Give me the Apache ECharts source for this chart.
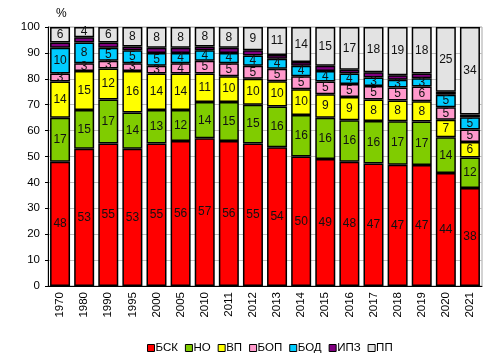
<!DOCTYPE html>
<html><head><meta charset="utf-8">
<script src="https://cdn.jsdelivr.net/npm/echarts@6/dist/echarts.min.js"></script>
<style>html,body{margin:0;padding:0;background:#fff}#c{width:497px;height:364px}</style>
</head><body><div id="c"></div>
<script>
var years = ['1970','1980','1990','1995','2000','2005','2010','2011','2012','2013','2014','2015','2016','2017','2018','2019','2020','2021'];
var bsk = [48,53,55,53,55,56,57,56,55,53.6,50,49,48,47.3,46.8,46.7,43.6,37.8];
var no  = [17,15,17,14,13,12,14,15,15,15.7,16,16,16,16.4,16.8,16.8,13.8,11.8];
var vp  = [14,15,12,16,14,14,11,10,10,9.8,10,9,9,8.3,8,7.8,6.8,6];
var bop = [3,3,3,3,3,4,5,5,5,4.8,5,5,5,5.2,5,5.7,4.8,4.8];
var bod = [10,8,5,5,5,4,4,4,4,3.8,4,4,4,3.3,3,3.2,4.8,4.8];
var ipz = [2,2,2,1.5,2,2,1.5,2,2,1.5,1.5,2,1.5,2,1.8,1.8,1.2,1];
var pp  = [6,4,6,7.5,8,8,7.5,8,9,10.8,13.5,15,16.5,17.5,18.6,18,25,33.8];
var yTicks = [0,10,20,30,40,50,60,70,80,90,100];

var names = ['БСК','НО','ВП','БОП','БОД','ИПЗ','ПП'];
var colors = ['#ff0000','#80cc00','#ffff00','#ff99cc','#00ccff','#800080','#e3e3e3'];
var datas = [bsk,no,vp,bop,bod,ipz,pp];
var series = names.map(function(n,i){
  return {
    name:n, type:'bar', stack:'s', data:datas[i], barWidth:20,
    itemStyle:{color:colors[i], borderColor:'#000', borderWidth:1.5},
    label:{show: i!==5, position:'inside', color:'#111', fontFamily:'Liberation Sans, Arial', fontSize:12,
      formatter:function(p){return Math.round(p.value);}},
    emphasis:{disabled:true}
  };
});
var chart = echarts.init(document.getElementById('c'), null, {renderer:'canvas'});
chart.setOption({
  animation:false,
  textStyle:{fontFamily:'Liberation Sans, Arial'},
  grid:{left:48, right:15, top:27, bottom:78, show:true, borderColor:'#a6a6a6', borderWidth:1},
  legend:{bottom:5, left:142, itemWidth:7, itemHeight:7, itemGap:7,
    icon:'rect',
    itemStyle:{borderColor:'#000', borderWidth:1},
    textStyle:{fontSize:11.5, color:'#000', fontFamily:'Liberation Sans, Arial', padding:[0,0,0,-4]},
    data:names},
  xAxis:{type:'category', data:years,
    axisLine:{lineStyle:{color:'#000', width:1}},
    axisTick:{show:false},
    axisLabel:{rotate:90, color:'#000', fontSize:11.5, margin:6}},
  yAxis:{type:'value', min:0, max:100, interval:10, name:'%',
    nameGap:7, nameTextStyle:{color:'#000', fontSize:12, align:'left', padding:[0,0,0,8]},
    axisLine:{show:true, lineStyle:{color:'#000'}},
    axisTick:{show:true, length:3, lineStyle:{color:'#000'}},
    axisLabel:{color:'#000', fontSize:11.5, margin:8, formatter:function(v){return yTicks.indexOf(v)>=0?v:'';}},
    splitLine:{lineStyle:{color:'#c0c0c0'}}},
  series:series
});
</script></body></html>
